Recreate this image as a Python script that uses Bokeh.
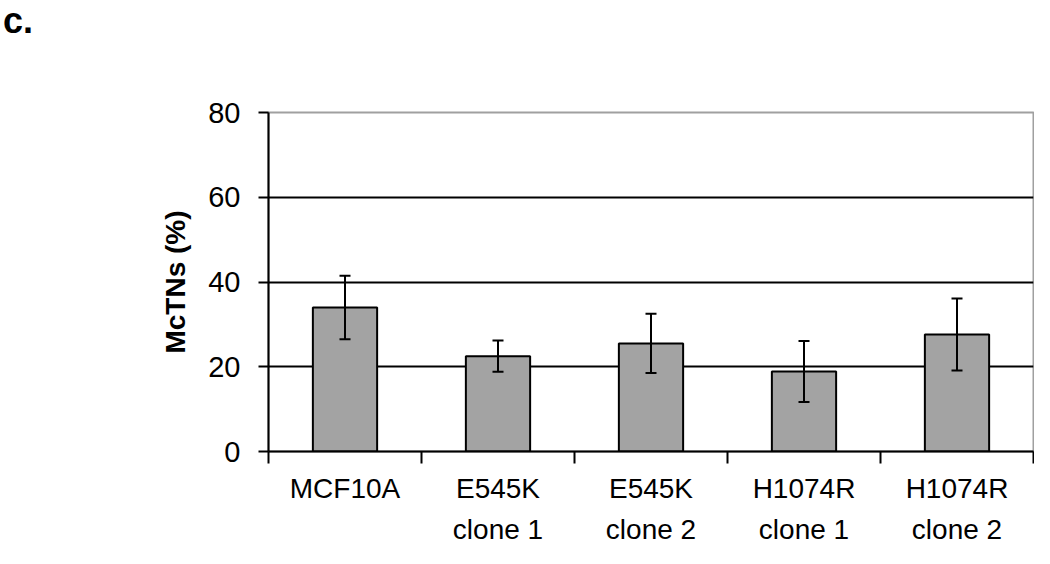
from bokeh.plotting import figure
from bokeh.models import ColumnDataSource, Range1d, FixedTicker, Whisker, TeeHead, Div
from bokeh.layouts import column
from bokeh.embed import file_html
from bokeh.resources import INLINE

categories = ["MCF10A", "E545K\nclone 1", "E545K\nclone 2", "H1074R\nclone 1", "H1074R\nclone 2"]
values = [34.0, 22.5, 25.5, 18.9, 27.6]
errors = [7.5, 3.7, 7.0, 7.2, 8.5]
y_ticks = [0, 20, 40, 60, 80]
panel_letter = "c."

xs = [i + 0.5 for i in range(len(categories))]
src = ColumnDataSource(dict(
    x=xs, top=values,
    upper=[v + e for v, e in zip(values, errors)],
    lower=[v - e for v, e in zip(values, errors)],
))

FONT = "'Liberation Sans', Arial, sans-serif"

header = Div(text=panel_letter, width=200, height=44, margin=(0, 0, 0, 3),
             styles={"font-family": FONT, "font-size": "36px", "font-weight": "bold",
                     "line-height": "normal", "color": "black", "overflow": "visible"})

p = figure(width=1034, height=504, output_backend="svg", toolbar_location=None,
           x_range=Range1d(0, len(categories)), y_range=Range1d(0, 80),
           min_border_left=268, min_border_right=1, min_border_top=68, min_border_bottom=93)

p.vbar(x="x", top="top", width=0.42, source=src, fill_color="#a3a3a3",
       line_color="black", line_width=2)

w = Whisker(source=src, base="x", upper="upper", lower="lower",
            line_color="black", line_width=2, level="overlay",
            upper_head=TeeHead(size=11, line_color="black", line_width=2),
            lower_head=TeeHead(size=11, line_color="black", line_width=2))
p.add_layout(w)

# grid
p.xgrid.visible = False
p.ygrid.ticker = FixedTicker(ticks=[20, 40, 60])
p.ygrid.grid_line_color = "black"
p.ygrid.grid_line_width = 2

p.outline_line_color = "#a0a0a0"
p.outline_line_width = 2

# y axis
p.yaxis.ticker = FixedTicker(ticks=y_ticks)
p.yaxis.axis_line_color = "black"
p.yaxis.axis_line_width = 2
p.yaxis.major_tick_line_width = 2
p.yaxis.major_tick_out = 10
p.yaxis.major_tick_in = 0
p.yaxis.minor_tick_line_color = None
p.yaxis.major_label_text_font = FONT
p.yaxis.major_label_text_font_size = "29px"
p.yaxis.major_label_text_color = "black"
p.yaxis.major_label_standoff = 18
p.yaxis.axis_label = "McTNs (%)"
p.yaxis.axis_label_text_font = FONT
p.yaxis.axis_label_text_font_style = "bold"
p.yaxis.axis_label_text_font_size = "28px"
p.yaxis.axis_label_text_color = "black"
p.yaxis.axis_label_standoff = 14

# x axis: labels at centers, ticks at boundaries
p.xaxis.ticker = FixedTicker(ticks=xs, minor_ticks=list(range(len(categories) + 1)))
p.xaxis.major_label_overrides = {x: c for x, c in zip(xs, categories)}
p.xaxis.axis_line_color = "black"
p.xaxis.axis_line_width = 2
p.xaxis.major_tick_line_color = None
p.xaxis.major_tick_out = 0
p.xaxis.major_tick_in = 0
p.xaxis.minor_tick_line_color = "black"
p.xaxis.minor_tick_line_width = 2
p.xaxis.minor_tick_out = 12
p.xaxis.minor_tick_in = 0
p.xaxis.major_label_text_font = FONT
p.xaxis.major_label_text_font_size = "28px"
p.xaxis.major_label_text_color = "black"
p.xaxis.major_label_text_line_height = 1.35
p.xaxis.major_label_standoff = 9

layout = column(header, p, spacing=0)

open("out.html", "w").write(file_html(layout, INLINE))
